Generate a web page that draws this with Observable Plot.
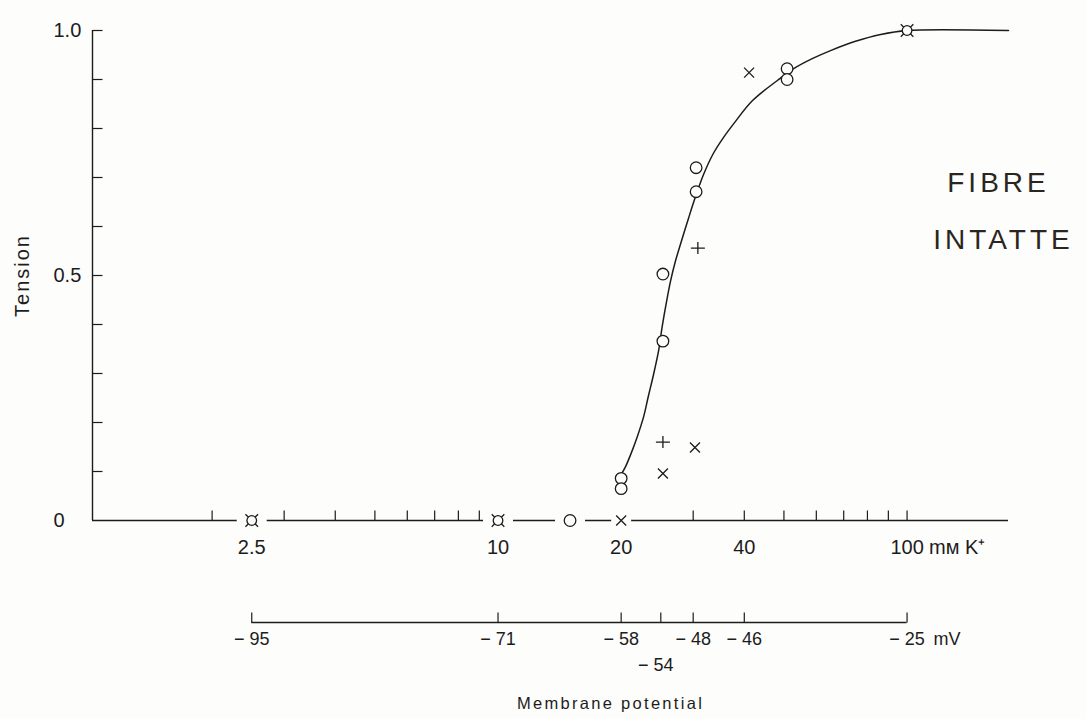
<!DOCTYPE html>
<html>
<head>
<meta charset="utf-8">
<script src="https://cdn.jsdelivr.net/npm/d3@7"></script>
<script src="https://cdn.jsdelivr.net/npm/@observablehq/plot@0.6"></script>
<style>
  html, body { margin: 0; padding: 0; background: #fdfdfc; }
  #chart { width: 1086px; height: 719px; overflow: hidden; }
  #chart svg { display: block; }
</style>
</head>
<body>
<div id="chart"></div>
<script>
// ---- data ----
// open circles (K+ concentration in mM, relative tension)
const circleK = [2.5, 10, 15, 20, 20, 25.3, 25.3, 30.5, 30.5, 50.9, 50.9, 100];
const circleT = [0, 0, 0, 0.086, 0.065, 0.366, 0.503, 0.720, 0.671, 0.922, 0.900, 1.0];
// crosses (×)
const crossK = [2.5, 10, 20, 25.3, 30.3, 41.1, 100];
const crossT = [0, 0, 0, 0.096, 0.149, 0.914, 1.0];
// plus signs (+)
const plusK = [25.3, 30.8];
const plusT = [0.160, 0.556];
// fitted (hand-drawn) curve
const curveK = [20.0, 20.5, 21.2, 21.9, 22.7, 23.3, 24.0, 24.7, 25.2, 25.8, 26.4, 27.1, 28.0, 29.2, 30.4, 31.8, 33.6, 35.6, 37.7, 41.9, 48.2, 52.8, 58.8, 65.0, 74.8, 86.2, 100, 177];
const curveT = [0.094, 0.110, 0.139, 0.171, 0.212, 0.253, 0.298, 0.347, 0.396, 0.445, 0.488, 0.527, 0.567, 0.616, 0.661, 0.706, 0.749, 0.782, 0.810, 0.857, 0.898, 0.922, 0.943, 0.959, 0.978, 0.992, 1.0, 1.0];
// axes
const kTickLabels = [2.5, 10, 20, 40, 100];
const kMinorTicks = [2, 3, 4, 5, 6, 7, 8, 9, 30, 40, 50, 60, 70, 80, 90, 100];
const tensionTicks = [0.1, 0.2, 0.3, 0.4, 0.5, 0.6, 0.7, 0.8, 0.9, 1.0];
const tensionLabels = [0, 0.5, 1.0];
const mvK = [2.5, 10, 20, 25, 30, 40, 100];
const mvLabels = ["− 95", "− 71", "− 58", "− 54", "− 48", "− 46", "− 25"];
const xDomain = [1.02, 177];

// ---- build tables ----
const ink = "#1c1c1c";
const bg = "#fdfdfc";
const circles = circleK.map((k, i) => ({k, t: circleT[i]}));
const crosses = crossK.map((k, i) => ({k, t: crossT[i]}));
const pluses = plusK.map((k, i) => ({k, t: plusT[i]}));
const curve = curveK.map((k, i) => ({k, t: curveT[i]}));
const mv = mvK.map((k, i) => ({k, label: mvLabels[i]}));
const same = (a, b) => a.k === b.k && a.t === b.t;
const circlesWithCross = circles.filter(c => crosses.some(x => same(c, x)));
const circlesAlone = circles.filter(c => !crosses.some(x => same(c, x)));
const circlesOnAxis = circles.filter(d => d.t === 0);
const crossesOnlyOnAxis = crosses.filter(d => d.t === 0 && !circlesOnAxis.some(c => c.k === d.k));

// custom glyphs
const tickUp = {draw(c) { c.moveTo(0, 0); c.lineTo(0, -10); }};
const tickRight = {draw(c) { c.moveTo(0, 0); c.lineTo(10, 0); }};
const timesSym = {draw(c) { const s = 5; c.moveTo(-s, -s); c.lineTo(s, s); c.moveTo(-s, s); c.lineTo(s, -s); }};
const timesBig = {draw(c) { const s = 6.3; c.moveTo(-s, -s); c.lineTo(s, s); c.moveTo(-s, s); c.lineTo(s, -s); }};
const plusSym = {draw(c) { c.moveTo(-7, 0); c.lineTo(7, 0); c.moveTo(0, -6); c.lineTo(0, 6); }};

const font = "'Liberation Sans', Arial, sans-serif";

const plot1 = Plot.plot({
  width: 1086, height: 565,
  marginLeft: 92, marginRight: 78, marginTop: 30, marginBottom: 45,
  style: {background: "transparent", fontFamily: font, fontSize: "20px", color: ink},
  x: {type: "log", domain: xDomain},
  y: {domain: [0, 1]},
  marks: [
    Plot.ruleY([0], {stroke: ink, strokeWidth: 1.4}),
    Plot.ruleX([xDomain[0]], {y1: 0, y2: 1, stroke: ink, strokeWidth: 1.4}),
    // gaps in the baseline around the markers
    Plot.dot(circlesOnAxis, {x: "k", y: "t", r: 15, fill: bg, stroke: null}),
    Plot.dot(crossesOnlyOnAxis, {x: "k", y: "t", r: 10, fill: bg, stroke: null}),
    // minor ticks
    Plot.dot(kMinorTicks, {x: d => d, y: 0, symbol: tickUp, stroke: ink, fill: "none", strokeWidth: 1.2}),
    Plot.dot(tensionTicks, {x: xDomain[0], y: d => d, symbol: tickRight, stroke: ink, fill: "none", strokeWidth: 1.2}),
    // curve
    Plot.line(curve, {x: "k", y: "t", curve: "catmull-rom", stroke: ink, strokeWidth: 1.5}),
    // markers
    Plot.dot(crosses.filter(x => !circles.some(c => same(c, x))), {x: "k", y: "t", symbol: timesSym, stroke: ink, fill: "none", strokeWidth: 1.3}),
    Plot.dot(crosses.filter(x => circles.some(c => same(c, x))), {x: "k", y: "t", symbol: timesBig, stroke: ink, fill: "none", strokeWidth: 1.3}),
    Plot.dot(pluses, {x: "k", y: "t", symbol: plusSym, stroke: ink, fill: "none", strokeWidth: 1.3}),
    Plot.dot(circlesAlone, {x: "k", y: "t", r: 5.8, fill: bg, stroke: ink, strokeWidth: 1.3}),
    Plot.dot(circlesWithCross, {x: "k", y: "t", r: 4.8, fill: bg, stroke: ink, strokeWidth: 1.3}),
    // axis labels
    Plot.axisX(kTickLabels, {anchor: "bottom", tickSize: 0, tickPadding: 19, tickFormat: d => String(d), fontSize: 20, label: null, fill: ink}),
    Plot.text(["mᴍ K⁺"], {x: 100, y: 0, text: d => d, textAnchor: "start", lineAnchor: "top", dx: 22, dy: 19, fontSize: 20, fill: ink}),
    Plot.axisY(tensionLabels, {anchor: "left", tickSize: 0, tickPadding: 39, textAnchor: "start", tickFormat: d => d === 0 ? "0" : d.toFixed(1), fontSize: 20, label: null, fill: ink}),
    Plot.text(["Tension"], {frameAnchor: "left", rotate: -90, textAnchor: "middle", dx: -70, text: d => d, fontSize: 20, fill: ink}),
    // handwritten annotation
    Plot.text(["FIBRE"], {frameAnchor: "top-right", textAnchor: "middle", text: d => d, dx: -10, dy: 142, fontSize: 28, fill: "#2a2520"}),
    Plot.text(["INTATTE"], {frameAnchor: "top-right", textAnchor: "middle", text: d => d, dx: -5, dy: 199, fontSize: 28, fill: "#2a2520"})
  ]
});

const plot2 = Plot.plot({
  width: 1086, height: 154,
  marginLeft: 92, marginRight: 78, marginTop: 47, marginBottom: 97,
  style: {background: "transparent", fontFamily: font, fontSize: "18px", color: ink},
  x: {type: "log", domain: xDomain, axis: null},
  y: {domain: [0, 1], axis: null},
  marks: [
    Plot.ruleY([0], {x1: mvK[0], x2: mvK[mvK.length - 1], stroke: ink, strokeWidth: 1.4}),
    Plot.dot(mvK, {x: d => d, y: 0, symbol: tickUp, stroke: ink, fill: "none", strokeWidth: 1.2}),
    Plot.text(mv.filter(d => d.label !== "− 54"), {x: "k", y: 0, text: "label", dy: 17, fontSize: 18, fill: ink}),
    Plot.text(mv.filter(d => d.label === "− 54"), {x: "k", y: 0, text: "label", dx: -5, dy: 43, fontSize: 18, fill: ink}),
    Plot.text(["mV"], {x: mvK[mvK.length - 1], y: 0, text: d => d, dx: 40, dy: 17, fontSize: 18, fill: ink}),
    Plot.text(["Membrane potential"], {frameAnchor: "top", textAnchor: "middle", text: d => d, dx: 60, dy: 85, fontSize: 16.5, fill: ink})
  ]
});

// letter spacing for a few labels (as in the printed figure)
const spacing = {"FIBRE": 4, "INTATTE": 4, "Tension": 2, "Membrane potential": 2.3};
for (const svg of [plot1, plot2]) {
  d3.select(svg).selectAll("text").each(function() {
    const s = spacing[this.textContent];
    if (s != null) this.setAttribute("letter-spacing", s);
  });
}

const chart = document.getElementById("chart");
chart.appendChild(plot1);
chart.appendChild(plot2);
</script>
</body>
</html>
